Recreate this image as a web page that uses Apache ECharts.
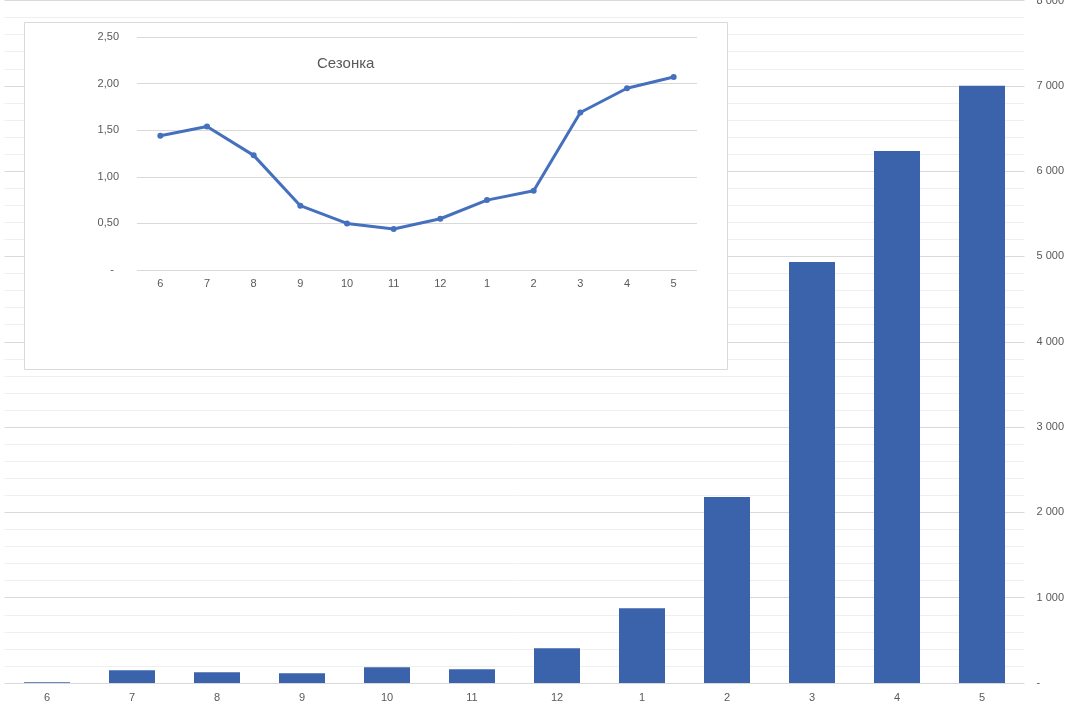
<!DOCTYPE html>
<html>
<head>
<meta charset="utf-8">
<script src="https://cdn.jsdelivr.net/npm/echarts@6/dist/echarts.min.js"></script>
<style>
html,body{margin:0;padding:0;background:#fff;}
#chart{width:1076px;height:703px;}
</style>
</head>
<body>
<div id="chart"></div>
<script>
var categories = ['6','7','8','9','10','11','12','1','2','3','4','5'];
var salesValues = [10,150,125,115,185,160,408,875,2180,4935,6235,7000];
var seasonValues = [1.44,1.54,1.23,0.69,0.50,0.44,0.55,0.75,0.85,1.69,1.95,2.07];
var insetTitle = 'Сезонка';

var FONT = 'Liberation Sans';
var GREY = '#595959';

function fmtThousands(v){
  if (v === 0) return '-';
  return String(v).replace(/\B(?=(\d{3})+(?!\d))/g, ' ');
}
function fmtDec(v){
  if (v === 0) return '{d|-}';
  return v.toFixed(2).replace('.', ',');
}

var chart = echarts.init(document.getElementById('chart'));
chart.setOption({
  animation: false,
  backgroundColor: '#fff',
  title: {
    text: insetTitle,
    left: 312, top: 51,
    textStyle: {fontFamily: FONT, fontSize: 15, fontWeight: 'normal', color: GREY},
    z: 14
  },
  graphic: [{
    type: 'rect',
    shape: {x: 24.5, y: 22.5, width: 703, height: 347},
    style: {fill: '#fff', stroke: '#d9d9d9', lineWidth: 1},
    z: 10
  }],
  grid: [
    {left: 4.5, right: 51.5, top: 0.5, bottom: 20, outerBoundsMode: 'none', containLabel: false},
    {left: 137, right: 379, top: 37, bottom: 433, outerBoundsMode: 'none', containLabel: false}
  ],
  xAxis: [
    {
      type: 'category', gridIndex: 0, data: categories,
      axisLine: {show: false}, axisTick: {show: false},
      axisLabel: {color: GREY, fontFamily: FONT, fontSize: 11, margin: 9}
    },
    {
      type: 'category', gridIndex: 1, data: categories,
      axisLine: {show: false}, axisTick: {show: false},
      axisLabel: {color: GREY, fontFamily: FONT, fontSize: 11, margin: 8},
      z: 12
    }
  ],
  yAxis: [
    {
      type: 'value', gridIndex: 0, position: 'right',
      min: 0, max: 8000, interval: 1000,
      axisLine: {show: false}, axisTick: {show: false},
      axisLabel: {color: GREY, fontFamily: FONT, fontSize: 11, margin: 12, align: 'left', formatter: fmtThousands},
      splitLine: {show: true, lineStyle: {color: '#d9d9d9', width: 1}},
      minorTick: {show: false, splitNumber: 5},
      minorSplitLine: {show: true, lineStyle: {color: '#efefef', width: 1}}
    },
    {
      type: 'value', gridIndex: 1,
      min: 0, max: 2.5, interval: 0.5,
      axisLine: {show: false}, axisTick: {show: false},
      axisLabel: {color: GREY, fontFamily: FONT, fontSize: 11, margin: 18, formatter: fmtDec,
        rich: {d: {color: GREY, fontFamily: FONT, fontSize: 11, padding: [0, 5, 0, 0]}}},
      splitLine: {show: true, lineStyle: {color: '#d9d9d9', width: 1}},
      z: 12
    }
  ],
  series: [
    {
      type: 'bar', xAxisIndex: 0, yAxisIndex: 0,
      data: salesValues, barWidth: 46,
      itemStyle: {color: '#3b63ab'},
      z: 2
    },
    {
      type: 'line', xAxisIndex: 1, yAxisIndex: 1,
      data: seasonValues,
      symbol: 'circle', symbolSize: 6, showSymbol: true,
      lineStyle: {color: '#4470bd', width: 3},
      itemStyle: {color: '#4470bd'},
      z: 13
    }
  ]
});
</script>
</body>
</html>
